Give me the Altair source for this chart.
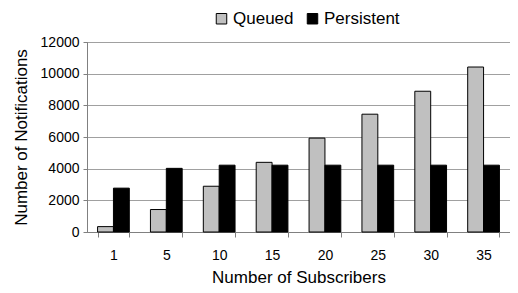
import altair as alt
import pandas as pd

subscribers = ["1", "5", "10", "15", "20", "25", "30", "35"]
queued = [340, 1420, 2890, 4400, 5930, 7440, 8890, 10420]
persistent = [2770, 4020, 4220, 4220, 4220, 4220, 4220, 4220]
series = ["Queued", "Persistent"]
colors = ["#c0c0c0", "#000000"]

rows = []
for i, s in enumerate(subscribers):
    rows.append({"Subscribers": s, "Series": "Queued", "Value": queued[i]})
    rows.append({"Subscribers": s, "Series": "Persistent", "Value": persistent[i]})
df = pd.DataFrame(rows)

FONT = "Liberation Sans"

chart = alt.Chart(df).mark_bar(stroke="#000000", strokeWidth=1).encode(
    x=alt.X(
        "Subscribers:N",
        sort=subscribers,
        scale=alt.Scale(paddingInner=0.4, paddingOuter=0.2),
        axis=alt.Axis(
            title="Number of Subscribers",
            labelAngle=0,
            tickBand="extent",
            tickSize=5,
            tickColor="#808080",
            domainColor="#808080",
            labelFontSize=14,
            labelPadding=11,
            titleFontSize=17,
            titlePadding=7,
            titleFontWeight="normal",
            grid=False,
        ),
    ),
    xOffset=alt.XOffset("Series:N", sort=series, scale=alt.Scale(paddingInner=0, paddingOuter=0)),
    y=alt.Y(
        "Value:Q",
        scale=alt.Scale(domain=[0, 12000], nice=False),
        axis=alt.Axis(
            title="Number of Notifications",
            values=[0, 2000, 4000, 6000, 8000, 10000, 12000],
            format="d",
            tickSize=4,
            tickColor="#808080",
            domainColor="#808080",
            gridColor="#a0a0a0",
            labelFontSize=14,
            labelPadding=4,
            titleFontSize=17,
            titlePadding=10,
            titleFontWeight="normal",
        ),
    ),
    color=alt.Color(
        "Series:N",
        sort=series,
        scale=alt.Scale(domain=series, range=colors),
        legend=alt.Legend(
            title=None,
            orient="none",
            direction="horizontal",
            legendX=126,
            legendY=-32,
            symbolType="square",
            symbolSize=110,
            symbolStrokeColor="#000000",
            symbolStrokeWidth=1,
            labelFontSize=17,
            labelOffset=3,
            columnPadding=10,
        ),
    ),
).properties(
    width=423,
    height=190,
    autosize=alt.AutoSizeParams(type="none"),
    padding={"left": 79, "top": 34, "right": 0, "bottom": 53},
).configure(
    font=FONT,
).configure_axis(
    labelColor="#000000",
    titleColor="#000000",
    labelFont=FONT,
    titleFont=FONT,
).configure_legend(
    labelFont=FONT,
    labelColor="#000000",
).configure_view(
    stroke="#808080",
    strokeWidth=1,
)

chart.save("out.html", embed_options={"renderer": "svg", "actions": False})
